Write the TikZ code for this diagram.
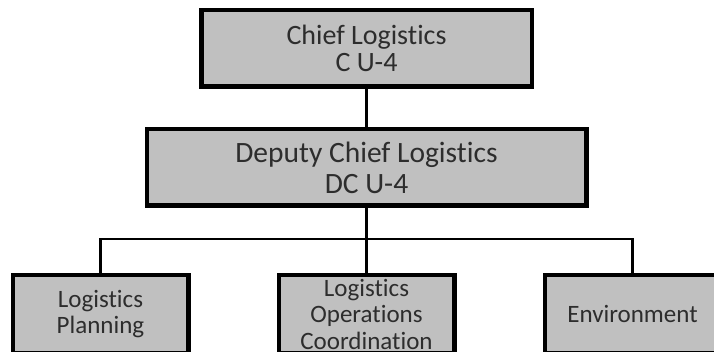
\documentclass[tikz,border=0pt]{standalone}
\usepackage{fontspec}
\setmainfont{Carlito}[Ligatures=NoCommon]
\usetikzlibrary{positioning}
\definecolor{boxgray}{RGB}{192,192,192}
\definecolor{txtgray}{RGB}{45,45,45}

\begin{document}
\begin{tikzpicture}[x=1pt,y=1pt,
		unitbox/.style={draw=black,fill=boxgray,line width=4.5pt,inner sep=0pt,align=center,text=txtgray},
		subbox/.style={unitbox,minimum width=175.5pt,minimum height=77.5pt,inner ysep=-10pt,font=\fontsize{25}{26.5}\selectfont},
		link/.style={line width=2.8pt}]
		\useasboundingbox (0,0) rectangle (714,-352);
		\clip (0,0) rectangle (714,-352);

		\node[unitbox,minimum width=330.5pt,minimum height=76.5pt,font=\fontsize{28}{27}\selectfont]	(cu4)	at (366.5,-48.5)	{Chief Logistics\\C U-4};
		\node[unitbox,minimum width=439.5pt,minimum height=76.5pt,font=\fontsize{29.5}{31}\selectfont,below=38pt of cu4]	(dcu4)	{Deputy Chief Logistics\\DC U-4};

		\node[subbox,below=65pt of dcu4]		(ops)	{Logistics\\Operations\\Coordination};
		\node[subbox,left=86pt of ops]			(plan)	{Logistics\\Planning};
		\node[subbox,right=86pt of ops]		(env)	{Environment};

		\coordinate[below=31pt of dcu4]	(bus);

		\draw[link] (cu4) -- (dcu4);
		\draw[link] (dcu4) -- (ops);
		\draw[link] (plan.north) |- (bus) -| (env.north);
	\end{tikzpicture}
\end{document}
